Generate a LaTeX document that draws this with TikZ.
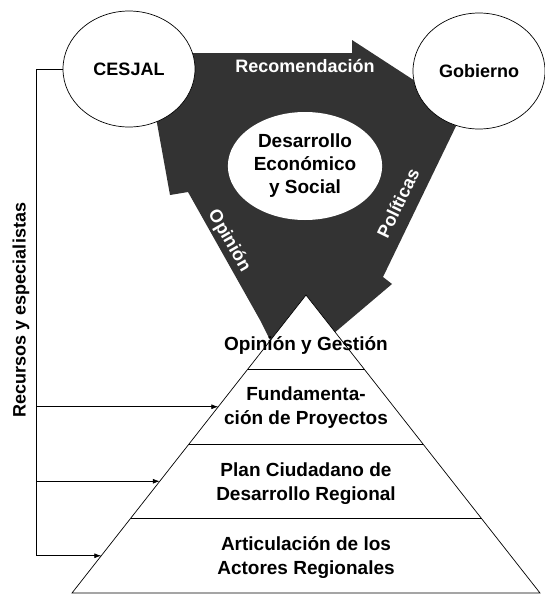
\documentclass[tikz,border=0pt]{standalone}
\usepackage{fontspec}
\setmainfont{Liberation Sans}
\usetikzlibrary{shapes.geometric,arrows.meta,calc}

\tikzset{
  actor/.style={ellipse, draw, fill=white, line width=0.7pt, minimum width=132pt, minimum height=116pt, font=\fontsize{18}{22}\selectfont\bfseries},
  core/.style={ellipse, fill=white, minimum width=134pt, minimum height=108pt, align=center, font=\fontsize{19}{23}\selectfont\bfseries},
  layer/.style={align=center, font=\fontsize{19}{24}\selectfont\bfseries},
  band/.style={text=white, font=\fontsize{18}{22}\selectfont\bfseries},
  feed/.style={-{Latex[length=7pt,width=5pt]}, line width=0.7pt}
}

\begin{document}
\begin{tikzpicture}[x=1pt, y=-1pt]
        \useasboundingbox (0,0) rectangle (544,597);

        \fill[black!80] (185,53) -- (352,53) -- (352,40) -- (432,92) -- (470,96) -- (457,124)
            -- (383,277) -- (392,284) -- (320,345) -- (275,350) -- (260,320) -- (188,192)
            -- (170,195) -- (155,112) -- (178,95) -- cycle;

        \node [band] (recom) at (305,66) {Recomendación};
        \node [band, rotate=64] (polit) at (398,203) {Políticas};
        \node [band, rotate=-60] (opin) at (229,241) {Opinión};

        \coordinate (apex) at (306,295);
        \coordinate (bl) at (72,593);
        \coordinate (br) at (540,593);
        \draw [fill=white, line width=0.7pt] (apex) -- (bl) -- (br) -- cycle;
        \draw [line width=0.7pt] ($(apex)!0.25!(bl)$) -- ($(apex)!0.25!(br)$);
        \draw [line width=0.7pt] ($(apex)!0.5!(bl)$) -- ($(apex)!0.5!(br)$);
        \draw [line width=0.7pt] ($(apex)!0.75!(bl)$) -- ($(apex)!0.75!(br)$);

        \node [layer] (l1) at (306,345) {Opinión y Gestión};
        \node [layer] (l2) at (306,408) {Fundamenta-\\ción de Proyectos};
        \node [layer] (l3) at (306,484) {Plan Ciudadano de\\Desarrollo Regional};
        \node [layer] (l4) at (306,558) {Articulación de los\\Actores Regionales};

        \node [actor] (cesjal) at (129,69) {CESJAL};
        \node [actor] (gob) at (479,71) {Gobierno};
        \node [core] (des) at (305,166) {Desarrollo\\Económico\\y Social};

        \node [rotate=90, font=\fontsize{18}{22}\selectfont\bfseries] (recursos) at (21,310) {Recursos y especialistas};

        \coordinate (a2) at ($(apex)!0.375!(bl)$);
        \coordinate (a3) at ($(apex)!0.625!(bl)$);
        \coordinate (a4) at ($(apex)!0.875!(bl)$);
        \coordinate (rail) at (36,69);

        \draw [feed] (cesjal.west) -- (rail) |- (a4);
        \draw [feed] (rail |- a2) -- (a2);
        \draw [feed] (rail |- a3) -- (a3);

    \end{tikzpicture}
\end{document}
